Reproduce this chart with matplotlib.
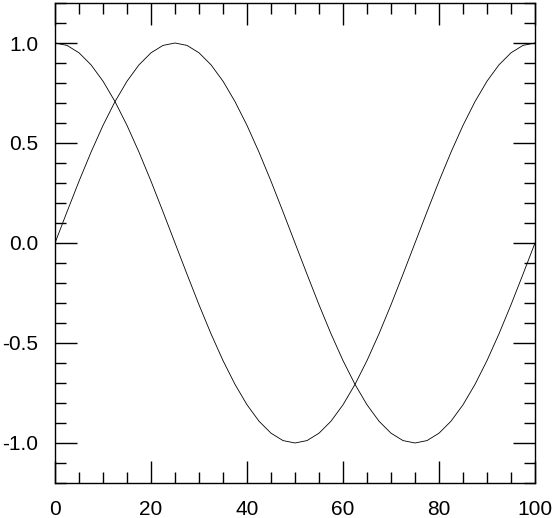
import matplotlib
matplotlib.use("Agg")
import matplotlib.pyplot as plt
from matplotlib.ticker import MultipleLocator

# values, one every 2.5 along x
x = [0, 2.5, 5, 7.5, 10, 12.5, 15, 17.5, 20, 22.5,
     25, 27.5, 30, 32.5, 35, 37.5, 40, 42.5, 45, 47.5,
     50, 52.5, 55, 57.5, 60, 62.5, 65, 67.5, 70, 72.5,
     75, 77.5, 80, 82.5, 85, 87.5, 90, 92.5, 95, 97.5, 100]

curve_a = [1.000, 0.988, 0.951, 0.891, 0.809, 0.707, 0.588, 0.454, 0.309, 0.156,
           0.000, -0.156, -0.309, -0.454, -0.588, -0.707, -0.809, -0.891, -0.951, -0.988,
           -1.000, -0.988, -0.951, -0.891, -0.809, -0.707, -0.588, -0.454, -0.309, -0.156,
           0.000, 0.156, 0.309, 0.454, 0.588, 0.707, 0.809, 0.891, 0.951, 0.988, 1.000]

curve_b = [0.000, 0.156, 0.309, 0.454, 0.588, 0.707, 0.809, 0.891, 0.951, 0.988,
           1.000, 0.988, 0.951, 0.891, 0.809, 0.707, 0.588, 0.454, 0.309, 0.156,
           0.000, -0.156, -0.309, -0.454, -0.588, -0.707, -0.809, -0.891, -0.951, -0.988,
           -1.000, -0.988, -0.951, -0.891, -0.809, -0.707, -0.588, -0.454, -0.309, -0.156, 0.000]

plt.rcParams['font.family'] = ['Liberation Sans', 'DejaVu Sans']

fig = plt.figure(figsize=(5.54, 5.18), dpi=100)
ax = fig.add_axes([0.0993, 0.0676, 0.8664, 0.9266])

ax.plot(x, curve_a, color="black", lw=0.6)
ax.plot(x, curve_b, color="black", lw=0.6)

ax.set_xlim(0, 100)
ax.set_ylim(-1.2, 1.2)
ax.xaxis.set_major_locator(MultipleLocator(20))
ax.xaxis.set_minor_locator(MultipleLocator(5))
ax.yaxis.set_major_locator(MultipleLocator(0.5))
ax.yaxis.set_minor_locator(MultipleLocator(0.1))
ax.yaxis.set_major_formatter(plt.FuncFormatter(lambda v, p: "%.1f" % v))

ax.tick_params(which="both", direction="in", top=True, right=True,
               labelsize=15, width=1, color="black")
ax.tick_params(which="major", length=16, pad=12)
ax.tick_params(which="minor", length=8)
for s in ax.spines.values():
    s.set_linewidth(1)

fig.savefig("out.png", dpi=100)
